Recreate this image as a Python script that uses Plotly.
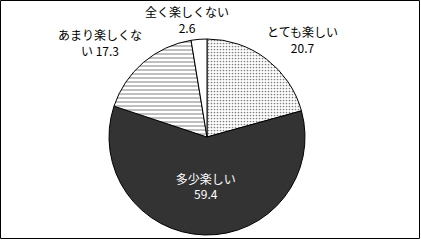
import plotly.graph_objects as go

labels = ["とても楽しい", "多少楽しい", "あまり楽しくない", "全く楽しくない"]
values = [20.7, 59.4, 17.3, 2.6]
label_text = ["とても楽しい<br>20.7", "多少楽しい<br>59.4", "あまり楽しくな<br>い 17.3", "全く楽しくない<br>2.6"]

W, H = 421, 241
cx, cy, r = 207, 137, 98
# label centres (pixels) for labels drawn outside the pie
outside_pos = {0: (302, 39.5), 2: (100, 42.5), 3: (187, 19)}

fig = go.Figure(go.Pie(
    labels=labels,
    values=values,
    text=label_text,
    texttemplate=["", "%{text}", "", ""],
    sort=False,
    direction="clockwise",
    rotation=0,
    textposition="inside",
    insidetextorientation="horizontal",
    textfont=dict(family="Noto Sans CJK JP", size=12, color="white"),
    marker=dict(
        colors=["white", "#333333", "white", "white"],
        line=dict(color="black", width=1),
        pattern=dict(shape=[".", "", "-", ""], fgcolor="black", bgcolor="white",
                     size=[3, 4, 4, 4], solidity=[0.25, 0.2, 0.25, 0.2], fillmode="overlay"),
    ),
    domain=dict(x=[(cx - r) / W, (cx + r) / W], y=[(H - cy - r) / H, (H - cy + r) / H]),
    showlegend=False,
    hoverinfo="label+value",
))

annotations = []
for i, (px, py) in outside_pos.items():
    annotations.append(dict(
        text=label_text[i], x=px / W, y=(H - py) / H, xref="paper", yref="paper",
        xanchor="center", yanchor="middle", showarrow=False, align="center",
        font=dict(family="Noto Sans CJK JP", size=12, color="black"),
    ))

fig.update_layout(
    width=W, height=H,
    margin=dict(l=0, r=0, t=0, b=0),
    paper_bgcolor="white",
    showlegend=False,
    annotations=annotations,
    shapes=[dict(type="rect", xref="paper", yref="paper",
                 x0=0.5 / W, x1=419.5 / W, y0=(H - 238.5) / H, y1=(H - 0.5) / H,
                 line=dict(color="black", width=1))],
)

fig.write_html("out.html")
